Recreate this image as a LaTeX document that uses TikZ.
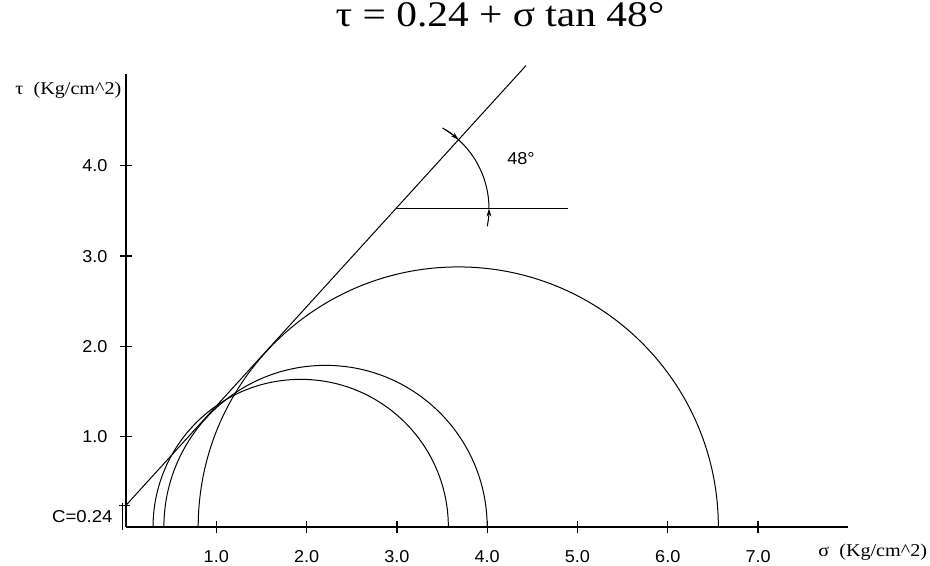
\documentclass[tikz,border=0pt]{standalone}
\usepackage{graphicx}
\usepackage{fontspec}
\setmainfont{Liberation Serif}
\newfontfamily\arialf{Liberation Sans}
\usetikzlibrary{arrows.meta,calc}
\newcommand{\hstretch}[2]{\scalebox{#1}[1]{#2}}
\begin{document}
\begin{tikzpicture}[x=45.15pt,y=45.15pt,
  axisline/.style={line width=0.65pt},
  thin/.style={line width=0.5pt},
  ticklbl/.style={font=\arialf\fontsize{8.6}{10}\selectfont, inner sep=0pt},
  unitlbl/.style={font=\fontsize{9}{10.5}\selectfont, inner sep=0pt},
  arrowtip/.style={-{Stealth[length=4pt,width=2.4pt]}}]
\useasboundingbox (-1.395,-0.421) rectangle (8.904,5.836);

% axes
\coordinate (O) at (0,0);
\coordinate (XE) at (7.996,0);
\coordinate (YE) at (0,5.017);
\draw[axisline] (O) -- (XE);
\draw[axisline] (O) -- (YE);
\foreach \k in {1,...,7} {
  \draw[axisline] (\k,-0.07) -- (\k,0.07);
  \node[ticklbl, anchor=base] (xl\k) at (\k,-0.388) {\hstretch{1.05}{\k.0}};
}
\foreach \k in {1,...,4} {
  \draw[axisline] (-0.07,\k) -- (0.07,\k);
  \node[ticklbl, anchor=base east] (yl\k) at (-0.2,\k-0.066) {\hstretch{1.05}{\k.0}};
}

% axis labels
\node[unitlbl, anchor=base west] (ylab) at (-1.229,4.795) {\hstretch{1.12}{τ\ \ (Kg/cm\textasciicircum 2)}};
\node[unitlbl, anchor=base west] (xlab) at (7.663,-0.332) {\hstretch{1.12}{σ\ \ (Kg/cm\textasciicircum 2)}};

% title
\node[font=\fontsize{18}{21}\selectfont, inner sep=0pt, anchor=base] (title) at (4.142,5.537)
  {\hstretch{1.15}{τ = 0.24 + σ tan 48°}};

% cohesion mark
\coordinate (C0) at (-0.035,-0.03);
\coordinate (C1) at (-0.035,0.265);
\draw[thin] (C0) -- (C1);
\draw[thin] (-0.08,0.24) -- (0.04,0.24);
\node[ticklbl, anchor=base east] (clbl) at (-0.144,0.055) {\hstretch{1.08}{C=0.24}};

% Mohr circles
\draw[thin] (0.30,0) arc (180:0:1.635);
\draw[thin] (0.42,0) arc (180:0:1.79);
\draw[thin] (0.80,0) arc (180:0:2.88);

% failure envelope
\coordinate (E0) at (0,0.24);
\coordinate (E1) at (4.43,5.11);
\draw[thin] (E0) -- (E1);

% angle annotation
\coordinate (P) at (2.99,3.527);
\coordinate (H) at (4.90,3.527);
\draw[thin] (P) -- (H);
\draw[thin] ($(P)+(58:1.03)$) arc (58:0:1.03);
\draw[thin, arrowtip] ($(P)+(60:1.03)$) arc (60:47.7:1.03);
\draw[thin, arrowtip] ($(P)+(-11:1.03)$) arc (-11:0:1.03);
\node[ticklbl, anchor=base west] (ang) at (4.219,4.009) {\hstretch{1.05}{48°}};
\end{tikzpicture}
\end{document}
